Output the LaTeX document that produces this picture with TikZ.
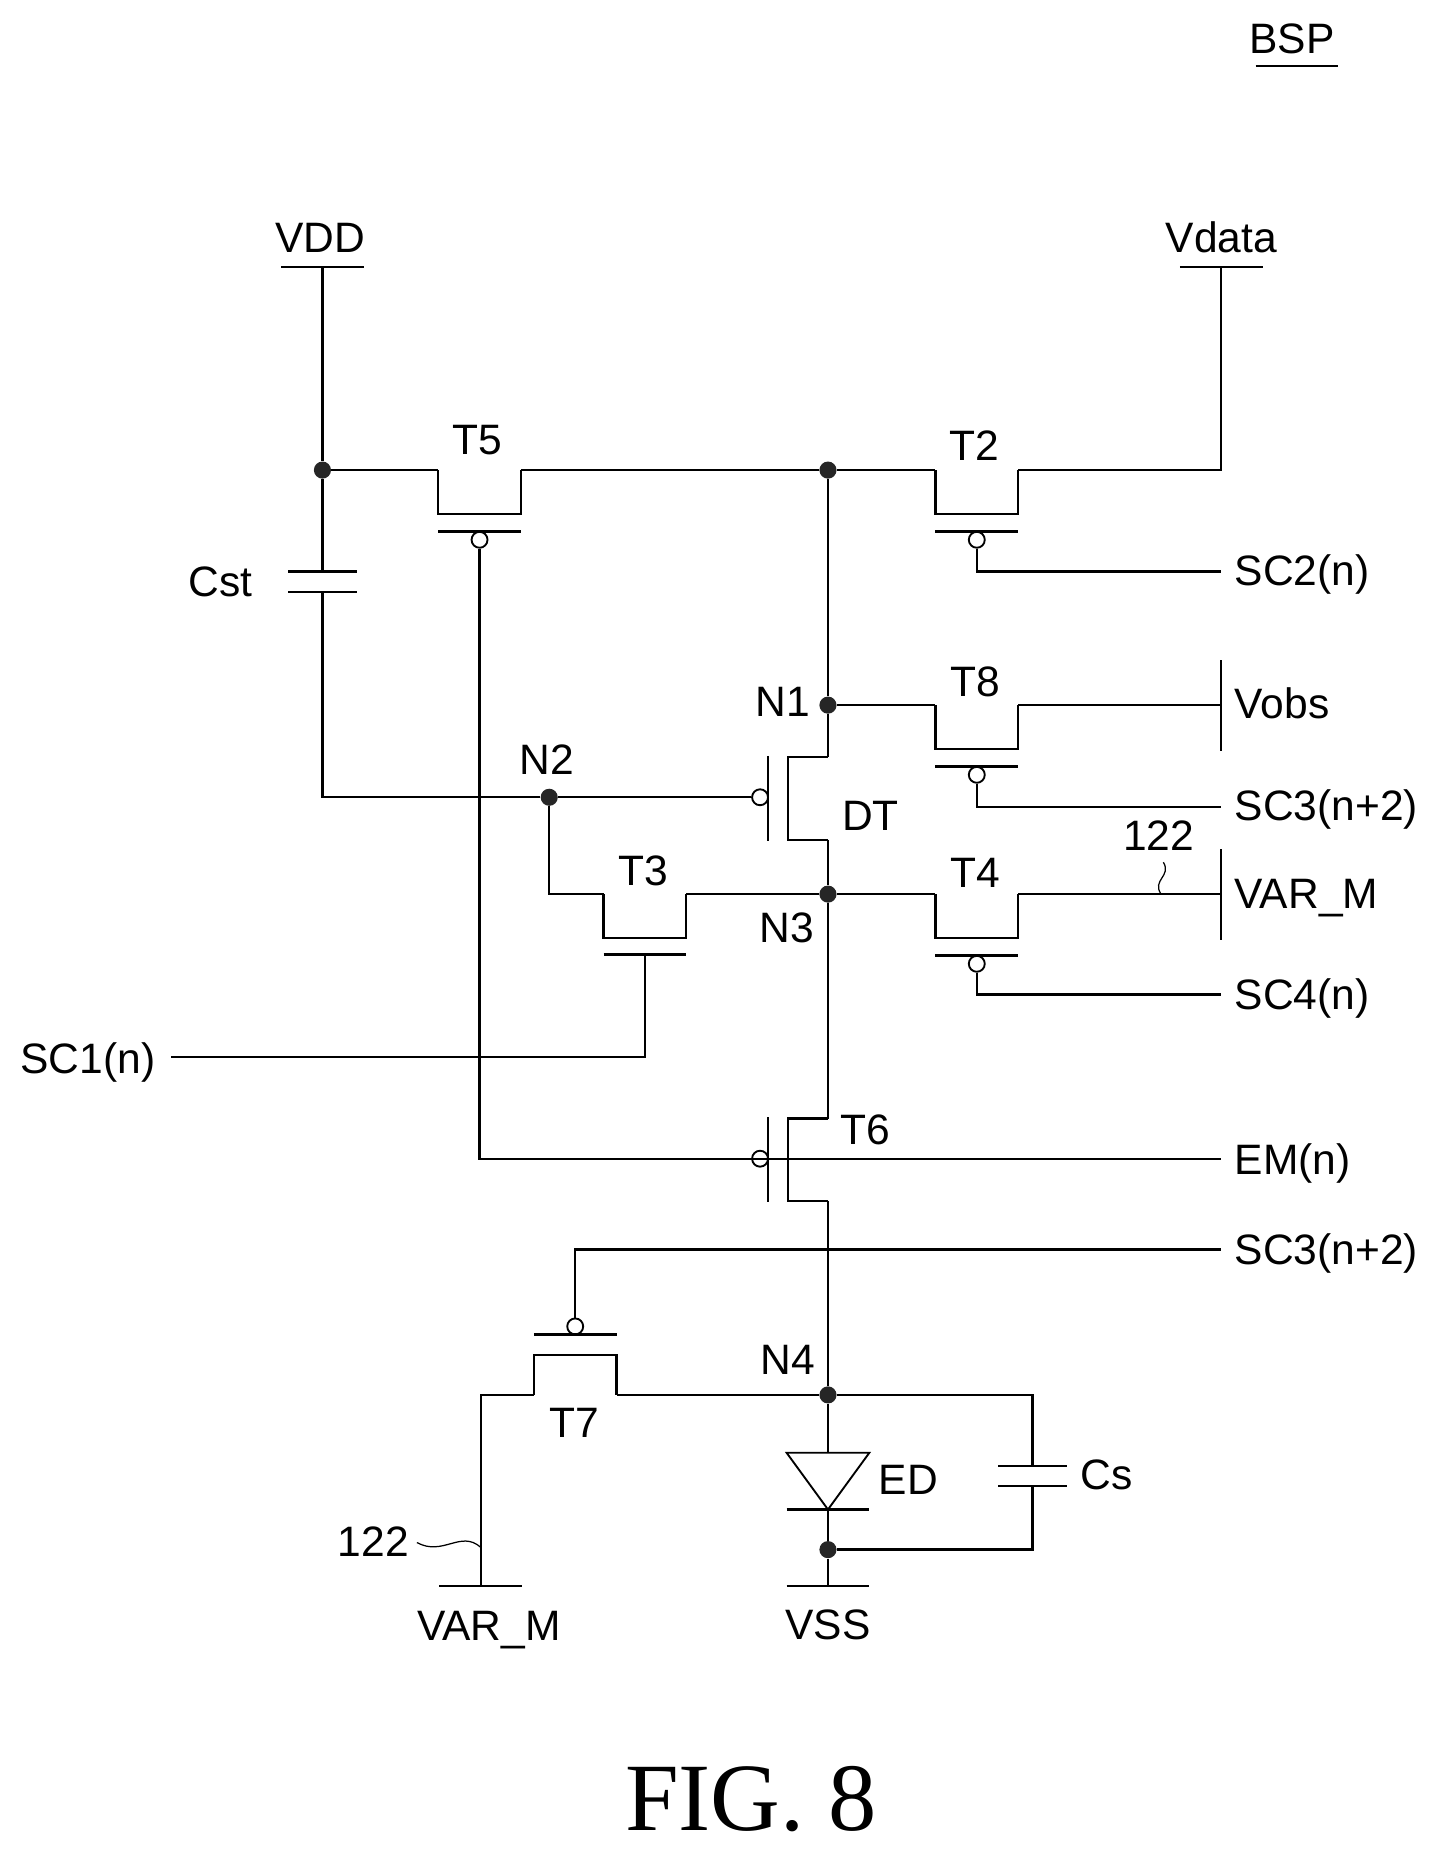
\documentclass[tikz,border=0pt]{standalone}
\usepackage{fontspec}
\setmainfont{Liberation Sans}
\newfontfamily\figfont{Liberation Serif}

\tikzset{
    wire/.style={line width=1.15pt, line join=miter},
    lead/.style={line width=0.6pt},
    dot/.style={circle, fill=black!85, inner sep=0pt, minimum size=0.29cm},
    bubble/.style={circle, draw, line width=0.9pt, inner sep=0pt, minimum size=0.27cm},
    lbl/.style={inner sep=0pt, anchor=base, font=\fontsize{20.5}{24}\selectfont},
    lblw/.style={lbl, anchor=base west}
}

\begin{document}
\begin{tikzpicture}[x=0.02cm, y=-0.02cm]
    \useasboundingbox (0,0) rectangle (1218,1568);

    \node[dot](top5) at (273,398){};
    \node[dot](top1) at (701,398){};
    \node[dot](N1) at (701,597){};
    \node[dot](N2) at (465,675){};
    \node[dot](N3) at (701,757){};
    \node[dot](N4) at (701,1181){};
    \node[dot](N5) at (701,1312){};

    \coordinate(VDD) at (273,226);
    \coordinate(Vdata) at (1034,226);
    \coordinate(Vobs) at (1034,597);
    \coordinate(VARr) at (1034,757);
    \coordinate(VARb) at (407,1343);
    \coordinate(VSS) at (701,1343);
    \coordinate(SCtwo) at (1034,484);
    \coordinate(SCthree) at (1034,683);
    \coordinate(SCfour) at (1034,842);
    \coordinate(SCone) at (145,895);
    \coordinate(EM) at (1034,981);
    \coordinate(SCthreeb) at (1034,1058);

    % p-type switches, gate below
    \foreach \n/\x/\y in {T5/406/398, T2/827/398, T8/827/597, T4/827/757}{
        \coordinate(\n s) at (\x-35,\y);
        \coordinate(\n d) at (\x+35,\y);
        \draw[wire](\n s)--++(0,37)--++(70,0)--(\n d);
        \draw[wire](\x-35,\y+52)--(\x+35,\y+52);
        \node[bubble](\n g) at (\x,\y+59){};
    }

    % T3 has no bubble
    \coordinate(T3s) at (511,757);
    \coordinate(T3d) at (581,757);
    \coordinate(T3g) at (546,808);
    \draw[wire](T3s)--++(0,37)--++(70,0)--(T3d);
    \draw[wire](T3g)++(-35,0)--++(70,0);

    % vertical ones, gate on the left
    \foreach \n/\y in {DT/676, T6/982}{
        \coordinate(\n t) at (701,\y-35);
        \coordinate(\n b) at (701,\y+35);
        \draw[wire](\n t)--++(-34,0)--++(0,70)--(\n b);
        \draw[wire](650,\y-36)--(650,\y+36);
        \node[bubble](\n g) at (643.5,\y-1){};
    }

    % T7 is upside down
    \coordinate(T7s) at (452,1181);
    \coordinate(T7d) at (522,1181);
    \draw[wire](T7s)--++(0,-34)--++(70,0)--(T7d);
    \draw[wire](452,1130)--(522,1130);
    \node[bubble](T7g) at (487,1123){};

    % rails
    \draw[wire](VDD)--(top5);
    \draw[wire](top5)--(T5s);
    \draw[wire](T5d)--(top1);
    \draw[wire](top1)--(T2s);
    \draw[wire](T2d)-|(Vdata);
    \draw[wire](top1)--(N1);
    \draw[wire](N1)--(T8s);
    \draw[wire](T8d)--(Vobs);
    \draw[wire](N1)--(DTt);
    \draw[wire](DTb)--(N3);
    \draw[wire](N3)--(T4s);
    \draw[wire](T4d)--(VARr);
    \draw[wire](N3)--(T3d);
    \draw[wire](N2)|-(T3s);
    \draw[wire](N3)--(T6t);
    \draw[wire](T6b)--(N4);
    \draw[wire](N4)--(T7d);
    \draw[wire](T7s)-|(VARb);
    \draw[wire](N5)--(VSS);

    % gate lines
    \draw[wire](T2g)|-(SCtwo);
    \draw[wire](T8g)|-(SCthree);
    \draw[wire](T4g)|-(SCfour);
    \draw[wire](T3g)|-(SCone);
    \draw[wire](T5g)|-(EM);
    \draw[wire](T7g)|-(SCthreeb);
    \draw[wire](N2)--(DTg);

    % Cst
    \coordinate(Csta) at (273,484);
    \coordinate(Cstb) at (273,501);
    \draw[wire](top5)--(Csta);
    \draw[wire](Csta)++(-29,0)--++(58,0);
    \draw[wire](Cstb)++(-29,0)--++(58,0);
    \draw[wire](Cstb)|-(N2);

    % Cs
    \coordinate(Csa) at (874,1241);
    \coordinate(Csb) at (874,1258);
    \draw[wire](N4)-|(Csa);
    \draw[wire](Csa)++(-29,0)--++(58,0);
    \draw[wire](Csb)++(-29,0)--++(58,0);
    \draw[wire](Csb)|-(N5);

    % ED
    \coordinate(EDa) at (701,1230);
    \coordinate(EDb) at (701,1278);
    \draw[wire](N4)--(EDa);
    \draw[wire](EDb)--(N5);
    \draw[line width=0.9pt](EDa)++(-35,0)--++(70,0)--(EDb)--cycle;
    \draw[wire](EDb)++(-35,0)--++(70,0);

    % end bars
    \draw[wire](VDD)++(-35,0)--++(70,0);
    \draw[wire](Vdata)++(-35,0)--++(70,0);
    \draw[wire](VARb)++(-35,0)--++(70,0);
    \draw[wire](VSS)++(-35,0)--++(70,0);
    \draw[wire](Vobs)++(0,-38)--++(0,77);
    \draw[wire](VARr)++(0,-38)--++(0,77);

    % 122 leads
    \coordinate(leada) at (983,757);
    \coordinate(leadb) at (985,730);
    \coordinate(leadc) at (407,1310);
    \coordinate(leadd) at (353,1306);
    \draw[lead](leada)..controls (975,745) and (992,742) ..(leadb);
    \draw[lead](leadc)..controls (390,1295) and (375,1318) ..(leadd);

    % text
    \foreach \n/\t/\x/\y in {tVDD/VDD/271/214, tVdata/Vdata/1034/214, tBSP/BSP/1094/45,
        tT5/T5/404/385, tT2/T2/825/390, tT8/T8/826/590, tT3/T3/545/750, tT4/T4/826/751,
        tT6/T6/733/969, tT7/T7/486/1217, tCst/Cst/187/505, tCs/Cs/937/1261, tED/ED/769/1265,
        tN1/N1/663/607, tN2/N2/463/656, tN3/N3/666/798, tN4/N4/667/1164, tDT/DT/737/703,
        tlinea/122/981/720, tlineb/122/316/1318, tVARb/VAR\_M/414/1389, tVSS/VSS/701/1388}{
        \node[lbl](\n) at (\x,\y){\t};
    }
    \foreach \n/\t/\y in {tSCtwo/SC2(n)/496, tVobs/Vobs/608, tSCthree/SC3(n+2)/695,
        tVARr/VAR\_M/769, tSCfour/SC4(n)/855, tEM/EM(n)/994, tSCthreeb/SC3(n+2)/1071}{
        \node[lblw](\n) at (1045,\y){\t};
    }
    \node[lblw](tSCone) at (17,909){SC1(n)};

    \coordinate(BSPa) at (1063,56);
    \coordinate(BSPb) at (1133,56);
    \draw[wire](BSPa)--(BSPb);

    \node[lbl, font=\figfont\fontsize{46.5}{50}\selectfont](fig) at (636,1550){FIG. 8};
\end{tikzpicture}
\end{document}
